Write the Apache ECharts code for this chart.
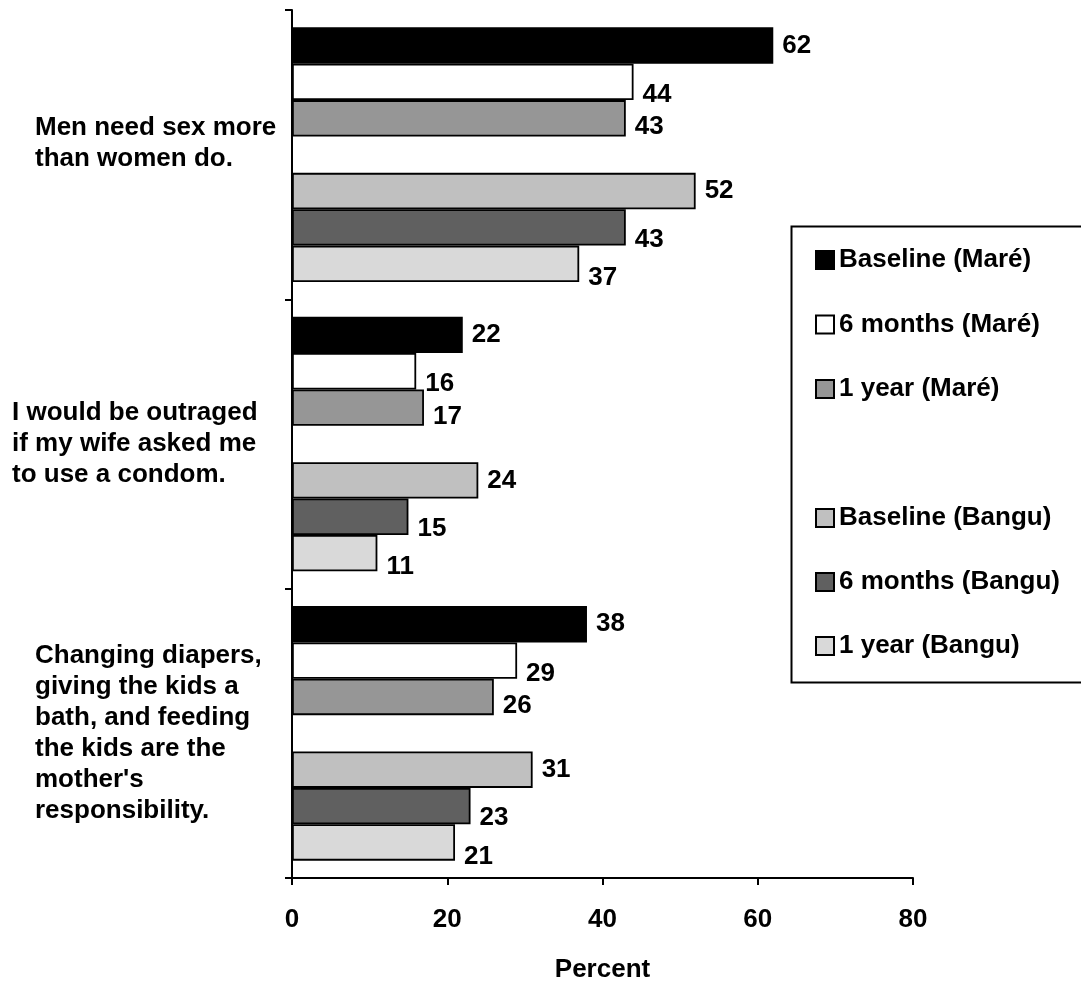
<!DOCTYPE html>
<html>
<head>
<meta charset="utf-8">
<script src="https://cdn.jsdelivr.net/npm/echarts@6/dist/echarts.min.js"></script>
<style>html,body{margin:0;padding:0;background:#fff;}#c{width:1081px;height:984px;}</style>
</head>
<body>
<div id="c"></div>
<script>
const categories = [
  "Men need sex more\nthan women do.",
  "I would be outraged\nif my wife asked me\nto use a condom.",
  "Changing diapers,\ngiving the kids a\nbath, and feeding\nthe kids are the\nmother's\nresponsibility."
];
const seriesNames = ["Baseline (Maré)", "6 months (Maré)", "1 year (Maré)", "Baseline (Bangu)", "6 months (Bangu)", "1 year (Bangu)"];
const baselineMare = [62, 22, 38];
const sixMonthsMare = [44, 16, 29];
const oneYearMare = [43, 17, 26];
const baselineBangu = [52, 24, 31];
const sixMonthsBangu = [43, 15, 23];
const oneYearBangu = [37, 11, 21];
const xTicks = [0, 20, 40, 60, 80];

const FONT = "'Liberation Sans', Arial, sans-serif";
const FS = 26;
const colors = ["#000000", "#ffffff", "#969696", "#c0c0c0", "#606060", "#d9d9d9"];
const values = [baselineMare, sixMonthsMare, oneYearMare, baselineBangu, sixMonthsBangu, oneYearBangu];
const labelOffsets = [[0, 0], [0, 13], [0, 9], [0, 0], [0, 12], [0, 14]];

function barSeries(i) {
  return {
    name: seriesNames[i],
    type: 'bar',
    data: values[i],
    barGap: '0%',
    barCategoryGap: '12%',
    itemStyle: { color: colors[i], borderColor: '#000', borderWidth: 1.8 },
    label: {
      show: true, position: 'right', distance: 9, offset: labelOffsets[i],
      color: '#000', fontSize: FS, fontWeight: 'bold', fontFamily: FONT
    },
    emphasis: { disabled: true },
    animation: false
  };
}

const series = [barSeries(0), barSeries(1), barSeries(2),
  { name: 'gap', type: 'bar', data: ['-', '-', '-'], barGap: '0%', barCategoryGap: '12%', animation: false },
  barSeries(3), barSeries(4), barSeries(5)];

const catPadding = [[0, 0, 0, 23], [0, 0, 0, 0], [0, 0, 0, 23]];
const richStyles = { s: { fontSize: 1, lineHeight: 23 } };
const catLabelStyle = (i) => ({
  color: '#000', fontSize: FS, fontWeight: 'bold', fontFamily: FONT,
  align: 'left', verticalAlign: 'middle', lineHeight: 31, padding: catPadding[i], rich: richStyles
});

const legendText = { color: '#000', fontSize: FS, fontWeight: 'bold', fontFamily: FONT, lineHeight: 30 };

const chart = echarts.init(document.getElementById('c'));
chart.setOption({
  backgroundColor: '#fff',
  animation: false,
  textStyle: { fontFamily: FONT },
  grid: { left: 292, right: 168, top: 10, bottom: 106, containLabel: false, outerBoundsMode: 'none' },
  xAxis: {
    type: 'value', min: xTicks[0], max: xTicks[xTicks.length - 1], interval: 20,
    name: 'Percent', nameLocation: 'middle', nameGap: 79,
    nameTextStyle: { color: '#000', fontSize: FS, fontWeight: 'bold', fontFamily: FONT },
    axisLine: { show: true, lineStyle: { color: '#000', width: 2 } },
    axisTick: { show: true, length: 7, lineStyle: { color: '#000', width: 2 } },
    axisLabel: { color: '#000', fontSize: FS, fontWeight: 'bold', fontFamily: FONT, margin: 29 },
    splitLine: { show: false }
  },
  yAxis: {
    type: 'category', inverse: true,
    data: categories.map((c, i) => ({ value: c, textStyle: catLabelStyle(i) })),
    axisLine: { show: true, lineStyle: { color: '#000', width: 2 } },
    axisTick: { show: true, length: 7, alignWithLabel: false, lineStyle: { color: '#000', width: 2 } },
    axisLabel: {
      color: '#000', fontSize: FS, fontWeight: 'bold', fontFamily: FONT,
      align: 'left', margin: 280, lineHeight: 31, hideOverlap: false, rich: richStyles,
      formatter: (value, index) => index === 0 ? value + '\n{s| }' : value
    },
    splitLine: { show: false }
  },
  legend: [
    {
      orient: 'vertical', left: 810, top: 240, itemWidth: 18, itemHeight: 18, itemGap: 34.5,
      icon: 'rect', data: seriesNames.slice(0, 3), selectedMode: false,
      textStyle: legendText
    },
    {
      orient: 'vertical', left: 810, top: 498, itemWidth: 18, itemHeight: 18, itemGap: 34,
      icon: 'rect', data: seriesNames.slice(3), selectedMode: false,
      textStyle: legendText
    }
  ],
  graphic: [{
    type: 'rect', left: 789, top: 224, silent: true,
    shape: { width: 320, height: 456 },
    style: { fill: 'none', stroke: '#000', lineWidth: 2 }
  }],
  series: series
});
</script>
</body>
</html>
